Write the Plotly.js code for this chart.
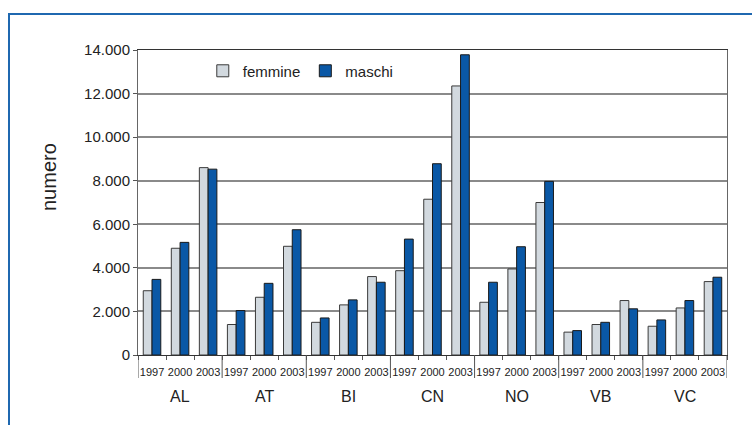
<!DOCTYPE html>
<html>
<head>
<meta charset="utf-8">
<script src="https://cdn.plot.ly/plotly-3.0.1.min.js"></script>
<style>
  html, body { margin: 0; padding: 0; background: #ffffff; }
  #wrap { position: relative; width: 752px; height: 425px; overflow: hidden; }
  #frame {
    position: absolute; left: 8px; top: 13px; width: 760px; height: 430px;
    border-top: 2px solid #1f68b0; border-left: 2px solid #1f68b0;
  }
  #chart { position: absolute; left: 0; top: 0; width: 752px; height: 425px; }
</style>
</head>
<body>
<div id="wrap">
  <div id="frame"></div>
  <div id="chart"></div>
</div>
<script>
// Provinces and survey years
const regions = ['AL', 'AT', 'BI', 'CN', 'NO', 'VB', 'VC'];
const years = ['1997', '2000', '2003'];

// Counts per province, in year order within each province
const femmine = [2950, 4900, 8600, 1400, 2650, 4990, 1500, 2300, 3600,
                 3870, 7150, 12350, 2420, 3950, 7000, 1050, 1400, 2500,
                 1320, 2160, 3370];
const maschi = [3470, 5170, 8530, 2040, 3290, 5750, 1700, 2530, 3340,
                5320, 8780, 13780, 3340, 4970, 7970, 1120, 1500, 2120,
                1610, 2500, 3570];

const yTicks = [0, 2000, 4000, 6000, 8000, 10000, 12000, 14000];

// One category per province/year pair; the year is shown as tick text
const cats = [];
const catYears = [];
regions.forEach(r => years.forEach(y => { cats.push(r + ' ' + y); catYears.push(y); }));

const font = 'Liberation Sans, Arial, sans-serif';

const traces = [
  {
    type: 'bar', name: 'femmine', x: cats, y: femmine,
    marker: { color: '#d2d9df', line: { color: '#3a3a3a', width: 1 } }
  },
  {
    type: 'bar', name: 'maschi', x: cats, y: maschi,
    marker: { color: '#0a58a6', line: { color: '#1a1a1a', width: 1 } }
  }
];

// Group separators below the axis, between provinces
const plotH = 305;
const shapes = [];
for (let k = 0; k <= regions.length; k++) {
  const xb = k * years.length - 0.5;
  shapes.push({
    type: 'line', xref: 'x', yref: 'paper',
    x0: xb, x1: xb, y0: 0, y1: -23 / plotH,
    line: { color: '#555555', width: 1 }
  });
}

// Province names centred under their group of bars
const annotations = regions.map((r, i) => ({
  xref: 'x', yref: 'paper',
  x: i * years.length + (years.length - 1) / 2,
  y: -41 / plotH,
  text: r, showarrow: false,
  xanchor: 'center', yanchor: 'middle',
  font: { family: font, size: 16, color: '#222' }
}));

annotations.push({
  xref: 'paper', yref: 'paper',
  x: -89 / 589, y: (355 - 177) / plotH,
  text: 'numero', textangle: -90, showarrow: false,
  xanchor: 'center', yanchor: 'middle',
  font: { family: font, size: 20, color: '#222' }
});

const layout = {
  width: 752, height: 425,
  margin: { l: 138, r: 25, t: 50, b: 70, pad: 0 },
  paper_bgcolor: 'rgba(0,0,0,0)',
  plot_bgcolor: '#ffffff',
  font: { family: font, color: '#222' },
  separators: ',.',
  barmode: 'group',
  bargap: 0.375,
  bargroupgap: 0,
  showlegend: true,
  legend: {
    orientation: 'h', x: 0.11, xanchor: 'left', y: 0.931, yanchor: 'middle',
    bgcolor: 'rgba(0,0,0,0)', font: { family: font, size: 15, color: '#222' },
    itemwidth: 30, traceorder: 'normal'
  },
  xaxis: {
    type: 'category',
    tickmode: 'array', tickvals: cats, ticktext: catYears,
    tickson: 'boundaries', ticks: 'outside', ticklen: 4, tickcolor: '#555',
    tickangle: 0,
    tickfont: { family: font, size: 11, color: '#222' },
    ticklabelstandoff: 7,
    showline: true, linecolor: '#333', linewidth: 1,
    mirror: true, showgrid: false, zeroline: false,
    range: [-0.5, cats.length - 0.5]
  },
  yaxis: {
    range: [0, 14000],
    tickmode: 'array', tickvals: yTicks, tickformat: ',d',
    ticks: 'outside', ticklen: 4, tickcolor: '#555',
    tickfont: { family: font, size: 15, color: '#222' },
    showline: true, linecolor: '#666', linewidth: 1, mirror: true,
    showgrid: true, gridcolor: '#8a8a8a', gridwidth: 2,
    zeroline: false
  },
  shapes: shapes,
  annotations: annotations
};

Plotly.newPlot('chart', traces, layout, { displayModeBar: false, staticPlot: true });
</script>
</body>
</html>
